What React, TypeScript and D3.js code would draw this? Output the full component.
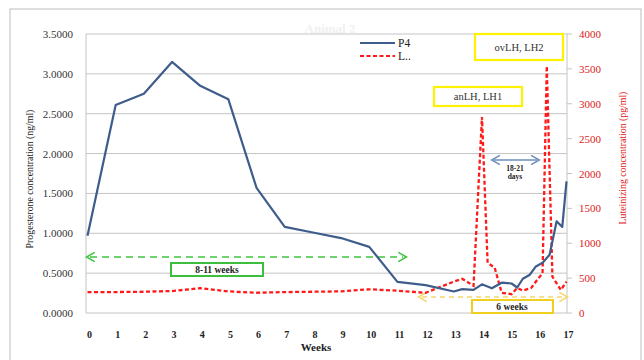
import React from "react";
import * as d3 from "d3";

const weekTicks = [0,1,2,3,4,5,6,7,8,9,10,11,12,13,14,15,16,17];
const p4Ticks = [0,0.5,1,1.5,2,2.5,3,3.5];
const lhTicks = [0,500,1000,1500,2000,2500,3000,3500,4000];

const p4Weeks = [0,1,2,3,4,5,6,7,8,9,10,11,12,13,13.3,13.7,14.0,14.35,14.7,15.05,15.25,15.45,15.7,15.9,16.15,16.4,16.65,16.85,17];
const p4Values = [0.97,2.61,2.75,3.15,2.85,2.68,1.57,1.08,1.01,0.94,0.83,0.39,0.35,0.27,0.30,0.29,0.36,0.31,0.38,0.37,0.32,0.43,0.48,0.58,0.63,0.73,1.15,1.08,1.65];

const lhWeeks = [0,1,2,3,4,5,6,7,8,9,10,11,12,12.5,13,13.3,13.7,14.0,14.2,14.45,14.7,15.05,15.25,15.45,15.75,15.95,16.15,16.3,16.5,16.8,17];
const lhValues = [300,300,305,315,355,310,290,300,305,310,340,320,290,370,450,490,390,2810,720,650,290,270,360,320,360,470,570,3540,520,330,450];

const W = 644, H = 360;
const left = 86, right = 567, top = 34, bottom = 313;

export default function App() {
  const x = d3.scaleLinear().domain([0, 17]).range([87.5, 566.5]);
  const yL = d3.scaleLinear().domain([0, 3.5]).range([bottom, top]);
  const yR = d3.scaleLinear().domain([0, 4000]).range([bottom, top]);

  const p4Line = d3.line<number>().x((_, i) => x(p4Weeks[i])).y((d) => yL(d))(p4Values) || "";
  const lhLine = d3.line<number>().x((_, i) => x(lhWeeks[i])).y((d) => yR(d))(lhValues) || "";

  const serif = "'Liberation Serif', 'Times New Roman', serif";
  const blue = "#3e5d8a";
  const red = "#ff1a1a";

  return (
    <svg width={W} height={H} style={{ position: "absolute", left: 0, top: 0, background: "#fff" }} fontFamily={serif}>
      <defs>
        <marker id="gArrow" viewBox="0 0 10 10" refX="5" refY="5" markerWidth="9" markerHeight="9" orient="auto-start-reverse">
          <path d="M1,1 L8,5 L1,9" fill="none" stroke="#3fc53f" strokeWidth="1.3" />
        </marker>
        <marker id="yArrow" viewBox="0 0 10 10" refX="5" refY="5" markerWidth="9" markerHeight="9" orient="auto-start-reverse">
          <path d="M1,1 L8,5 L1,9" fill="none" stroke="#f5d76a" strokeWidth="1.3" />
        </marker>
        <marker id="bArrow" viewBox="0 0 10 10" refX="6" refY="5" markerWidth="9" markerHeight="9" orient="auto-start-reverse">
          <path d="M1,1 L8,5 L1,9" fill="none" stroke="#6d8fbd" strokeWidth="1.3" />
        </marker>
      </defs>
      <rect x={10} y={9} width={631} height={360} fill="#fff" stroke="#bdbdbd" strokeWidth={1} />
      <text x={330} y={33} fontSize={13} fill="#f0f0f0" textAnchor="middle" fontWeight="bold">Animal 2</text>

      {p4Ticks.map((t) => (
        <line key={"g" + t} x1={left} x2={right} y1={yL(t)} y2={yL(t)} stroke="#c4c4c4" strokeWidth={1} />
      ))}
      <line x1={left} x2={left} y1={top} y2={bottom} stroke="#c4c4c4" />
      <line x1={right} x2={right} y1={top} y2={bottom} stroke="#c4c4c4" />
      {lhTicks.map((t) => (
        <line key={"rt" + t} x1={right} x2={right + 5} y1={yR(t)} y2={yR(t)} stroke="#c4c4c4" />
      ))}

      {p4Ticks.map((t) => (
        <text key={"l" + t} x={73} y={yL(t) + 4} fontSize={11} textAnchor="end" fill="#333">{t.toFixed(4)}</text>
      ))}
      {lhTicks.map((t) => (
        <text key={"r" + t} x={579} y={yR(t) + 4} fontSize={11} textAnchor="start" fill="#e02020">{t}</text>
      ))}
      {weekTicks.map((t) => (
        <text key={"w" + t} x={x(t) + 2} y={338} fontSize={10} fontWeight="bold" textAnchor="middle" fill="#222">{t}</text>
      ))}
      <text x={316} y={351} fontSize={11} fontWeight="bold" textAnchor="middle" fill="#222">Weeks</text>
      <text transform="translate(33,179) rotate(-90)" fontSize={9.8} textAnchor="middle" fill="#222">Progesterone concentration (ng/ml)</text>
      <text transform="translate(626,158) rotate(-90)" fontSize={9.8} textAnchor="middle" fill="#e02020">Luteinizing  concentration (pg/ml)</text>

      {/* annotations */}
      <line x1={90} x2={403} y1={257} y2={257} stroke="#3fc53f" strokeWidth={1.3} strokeDasharray="7,5" markerStart="url(#gArrow)" markerEnd="url(#gArrow)" />
      <rect x={171} y={263} width={92} height={13} fill="#fff" stroke="#3cbf3c" strokeWidth={2} />
      <text x={217} y={273} fontSize={9.5} fontWeight="bold" textAnchor="middle" fill="#222">8-11 weeks</text>

      <line x1={422} x2={564} y1={297} y2={297} stroke="#f5d76a" strokeWidth={1.3} strokeDasharray="5,4" markerStart="url(#yArrow)" markerEnd="url(#yArrow)" />
      <rect x={472} y={300} width={81} height={13} fill="#fff" stroke="#f0cf20" strokeWidth={2} />
      <text x={512} y={310} fontSize={9.5} fontWeight="bold" textAnchor="middle" fill="#222">6 weeks</text>

      <path d={lhLine} fill="none" stroke={red} strokeWidth={2.3} strokeDasharray="4,2.5" />
      <path d={p4Line} fill="none" stroke={blue} strokeWidth={2.2} strokeLinejoin="round" />

      <line x1={494} x2={537} y1={160} y2={160} stroke="#6d8fbd" strokeWidth={1.3} markerStart="url(#bArrow)" markerEnd="url(#bArrow)" />
      <text x={515} y={171} fontSize={7.5} fontWeight="bold" textAnchor="middle" fill="#222">18-21</text>
      <text x={515} y={179} fontSize={7.5} fontWeight="bold" textAnchor="middle" fill="#222">days</text>

      <rect x={434} y={87} width={88} height={19} fill="#fff" stroke="#fff200" strokeWidth={2.2} />
      <text x={478} y={100} fontSize={10.5} textAnchor="middle" fill="#333">anLH, LH1</text>
      <rect x={475} y={34} width={88} height={26} fill="#fff" stroke="#fff200" strokeWidth={2.2} />
      <text x={519} y={51} fontSize={10.5} textAnchor="middle" fill="#333">ovLH, LH2</text>

      {/* legend */}
      <line x1={360} x2={395} y1={43} y2={43} stroke={blue} strokeWidth={2.2} />
      <text x={398} y={47} fontSize={11.5} fill="#222">P4</text>
      <line x1={360} x2={395} y1={56} y2={56} stroke={red} strokeWidth={2} strokeDasharray="4,2.5" />
      <text x={398} y={60} fontSize={11.5} fill="#222">L..</text>
    </svg>
  );
}
